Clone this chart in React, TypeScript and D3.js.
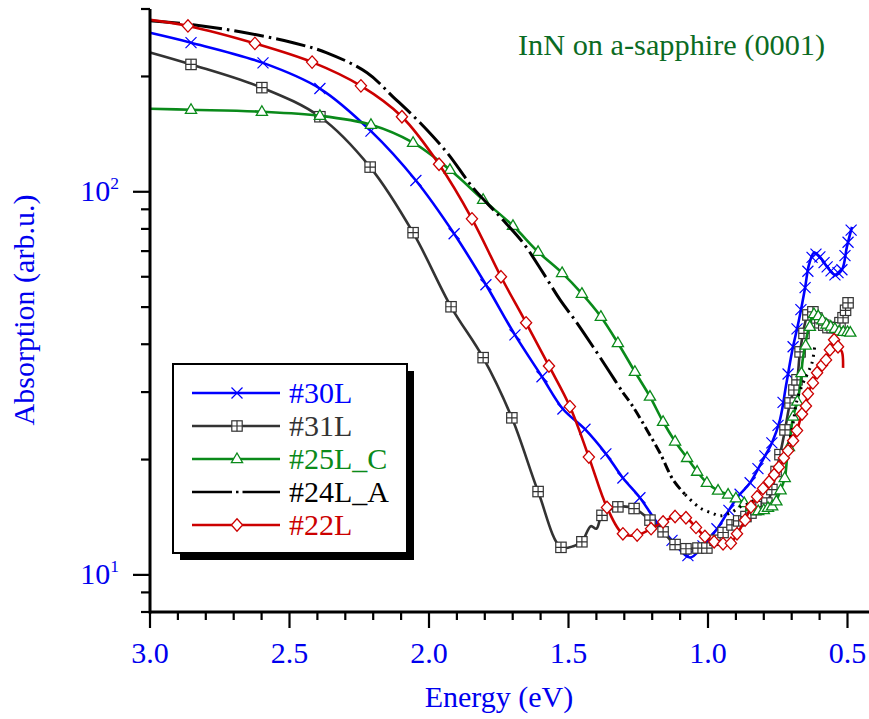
import React from "react";
import * as d3 from "d3";

const W = 869;
const H = 719;

// ---------- data ----------
const xMajorTicks = [3.0, 2.5, 2.0, 1.5, 1.0, 0.5];
const xTickLabels = ["3.0", "2.5", "2.0", "1.5", "1.0", "0.5"];
const xMinorTicks = [2.9, 2.8, 2.7, 2.6, 2.4, 2.3, 2.2, 2.1, 1.9, 1.8, 1.7, 1.6, 1.4, 1.3, 1.2, 1.1, 0.9, 0.8, 0.7, 0.6];
const yMajorTicks = [10, 100];
const yMajorExp = ["1", "2"];
const yMinorTicks = [8, 9, 20, 30, 40, 50, 60, 70, 80, 90, 200, 300];

type P = [number, number];

const s30L: P[] = [
  [3.0, 260], [2.853, 245], [2.595, 217], [2.391, 186], [2.208, 144], [2.047, 107], [1.91, 77.7],
  [1.796, 57.2], [1.692, 42.3], [1.595, 32.9], [1.52, 27.1], [1.441, 24.0], [1.366, 20.7], [1.305, 17.9],
  [1.244, 15.9], [1.183, 13.7], [1.129, 12.3], [1.065, 11.1], [1.018, 11.9], [0.964, 13.3], [0.896, 15.9],
  [0.849, 17.4], [0.803, 20.0], [0.771, 22.1], [0.742, 25.4], [0.72, 31.3], [0.699, 38.2], [0.674, 46.3],
  [0.652, 56.2], [0.638, 64.5], [0.62, 69.3], [0.599, 67.6], [0.573, 63.7], [0.545, 60.7], [0.52, 62.6],
  [0.502, 71.9], [0.484, 81.0],
];
const m30L = [
  2.853, 2.595, 2.391, 2.208, 2.047, 1.91, 1.796, 1.692, 1.595, 1.52, 1.441, 1.366, 1.305, 1.244, 1.183,
  1.129, 1.072, 1.018, 0.968, 0.925, 0.885, 0.849, 0.821, 0.796, 0.771, 0.749, 0.731, 0.713, 0.695, 0.681,
  0.667, 0.652, 0.642, 0.627, 0.613, 0.599, 0.584, 0.573, 0.559, 0.545, 0.534, 0.52, 0.509, 0.498, 0.487,
];

const s31L: P[] = [
  [3.0, 231], [2.853, 215], [2.599, 187], [2.391, 157], [2.211, 116], [2.057, 78.2], [1.921, 50.1],
  [1.806, 36.9], [1.703, 25.7], [1.609, 16.5], [1.527, 11.8], [1.48, 11.9], [1.452, 12.2], [1.42, 13.4],
  [1.4, 13.2], [1.38, 14.3], [1.323, 15.05], [1.265, 14.9], [1.208, 13.9], [1.161, 12.95], [1.118, 12.0],
  [1.079, 11.7], [1.036, 11.75], [1.004, 11.75], [0.946, 12.9], [0.914, 13.5], [0.864, 14.2], [0.828, 14.8],
  [0.789, 15.4], [0.771, 16.7], [0.742, 20.6], [0.724, 23.9], [0.706, 28.1], [0.681, 32.3], [0.67, 38.2],
  [0.642, 47.7], [0.624, 48.6], [0.599, 45.5], [0.57, 44.2], [0.538, 44.2], [0.516, 46.9], [0.498, 51.3],
];
const m31L = [
  2.853, 2.599, 2.391, 2.211, 2.057, 1.921, 1.806, 1.703, 1.609, 1.527, 1.452, 1.38, 1.323, 1.265, 1.208,
  1.161, 1.118, 1.079, 1.036, 1.004, 0.975, 0.946, 0.914, 0.89, 0.864, 0.846, 0.828, 0.81, 0.789, 0.771,
  0.756, 0.742, 0.724, 0.706, 0.692, 0.681, 0.67, 0.656, 0.642, 0.624, 0.61, 0.599, 0.585, 0.57, 0.555,
  0.538, 0.527, 0.516, 0.507, 0.498,
];

const s25LC: P[] = [
  [3.0, 164.7], [2.853, 163.7], [2.599, 161.8], [2.391, 157.9], [2.208, 149.6], [2.057, 134.3], [1.925, 114.1],
  [1.806, 95.3], [1.699, 81.5], [1.609, 69.7], [1.523, 61.4], [1.452, 54.2], [1.384, 47.2], [1.323, 40.3],
  [1.262, 33.9], [1.208, 29.2], [1.161, 25.1], [1.118, 22.3], [1.075, 20.2], [1.039, 18.6], [1.004, 17.4],
  [0.964, 16.6], [0.928, 16.2], [0.903, 15.9], [0.857, 15.2], [0.814, 14.6], [0.785, 14.96], [0.76, 15.2],
  [0.749, 16.0], [0.735, 17.0], [0.724, 18.0], [0.717, 20.0], [0.706, 22.5], [0.695, 25.9], [0.681, 28.1],
  [0.67, 31.0], [0.659, 37.1], [0.627, 47.2], [0.617, 48.3], [0.599, 46.9], [0.573, 44.9], [0.552, 44.2],
  [0.527, 43.1], [0.502, 43.1], [0.484, 42.8],
];
const m25LC = [
  2.853, 2.599, 2.391, 2.208, 2.057, 1.925, 1.806, 1.699, 1.609, 1.523, 1.452, 1.384, 1.323, 1.262, 1.208,
  1.161, 1.118, 1.075, 1.039, 1.004, 0.964, 0.928, 0.9, 0.87, 0.845, 0.82, 0.8, 0.785, 0.77, 0.755, 0.74,
  0.725, 0.71, 0.695, 0.68, 0.665, 0.65, 0.635, 0.62, 0.605, 0.59, 0.575, 0.56, 0.545, 0.53, 0.515, 0.5, 0.49,
];

const s24LA: P[] = [
  [3.0, 279.6], [2.846, 272.9], [2.677, 261.6], [2.487, 244.9], [2.366, 230.6], [2.222, 204.5], [2.129, 177.0],
  [2.032, 151.4], [1.935, 126.4], [1.842, 102.4], [1.746, 86.1], [1.663, 73.6], [1.591, 61.4], [1.53, 52.2],
  [1.47, 45.5], [1.412, 39.4], [1.351, 33.7], [1.305, 29.9], [1.269, 27.5], [1.219, 23.9], [1.172, 20.8],
  [1.125, 17.7], [1.082, 16.2], [1.029, 14.96], [0.986, 14.5], [0.957, 14.26], [0.921, 14.5], [0.885, 15.05],
  [0.849, 15.42], [0.796, 16.67], [0.742, 18.8], [0.713, 21.6], [0.695, 24.9], [0.681, 28.6], [0.659, 31.7],
  [0.642, 33.7], [0.627, 35.8], [0.616, 40.3],
];

const s22L: P[] = [
  [3.0, 281], [2.864, 271], [2.624, 244], [2.419, 218], [2.244, 189], [2.097, 157], [1.964, 118], [1.846, 85],
  [1.742, 60], [1.652, 45.5], [1.57, 35.1], [1.495, 27.5], [1.427, 20.3], [1.362, 15.0], [1.305, 12.8],
  [1.254, 12.7], [1.204, 13.2], [1.161, 13.75], [1.118, 14.2], [1.079, 14.1], [1.043, 13.3], [1.011, 12.6],
  [0.978, 12.2], [0.946, 12.05], [0.918, 12.1], [0.896, 12.8], [0.867, 13.9], [0.846, 15.05], [0.824, 16.0],
  [0.803, 16.8], [0.781, 17.5], [0.763, 18.25], [0.746, 19.1], [0.728, 20.2], [0.713, 21.1], [0.695, 22.4],
  [0.681, 23.8], [0.663, 26.3], [0.649, 27.6], [0.642, 29.7], [0.624, 31.7], [0.609, 33.7], [0.591, 35.3],
  [0.577, 36.4], [0.563, 38.7], [0.548, 41.1], [0.534, 39.4], [0.52, 38.2], [0.516, 34.7],
];
const m22L = [
  2.864, 2.624, 2.419, 2.244, 2.097, 1.964, 1.846, 1.742, 1.652, 1.57, 1.495, 1.427, 1.362, 1.305, 1.254,
  1.204, 1.161, 1.118, 1.079, 1.043, 1.011, 0.978, 0.946, 0.918, 0.896, 0.867, 0.846, 0.824, 0.803, 0.781,
  0.763, 0.746, 0.728, 0.713, 0.695, 0.681, 0.663, 0.649, 0.642, 0.624, 0.609, 0.591, 0.577, 0.563, 0.548, 0.534,
];

const seriesNames = ["#30L", "#31L", "#25L_C", "#24L_A", "#22L"];
const seriesColors = ["#0000ff", "#333333", "#0a8a1a", "#000000", "#cc0000"];
const legendTextColors = ["#0000ff", "#333333", "#0a8a1a", "#000000", "#cc0000"];
const seriesMarkers = ["x", "sq", "tri", "none", "dia"];

// ---------- layout ----------
const FONT = "Liberation Serif";
const BLUE = "#0000ee";
const FS = 30;
const textStyle = { fontFamily: FONT } as React.CSSProperties;

const x = d3.scaleLinear().domain([3.0, 0.42]).range([150, 150 + 2.58 * 279]);
const y = d3.scaleLog().domain([8, 300]).range([612, 9]);

function logInterp(line: P[], e: number): number {
  for (let i = 0; i < line.length - 1; i++) {
    const [e0, v0] = line[i];
    const [e1, v1] = line[i + 1];
    if ((e <= e0 && e >= e1) || (e >= e0 && e <= e1)) {
      const t = e1 === e0 ? 0 : (e - e0) / (e1 - e0);
      return Math.pow(10, Math.log10(v0) + t * (Math.log10(v1) - Math.log10(v0)));
    }
  }
  return line[line.length - 1][1];
}

const lineGen = d3
  .line<P>()
  .x((d) => x(d[0]))
  .y((d) => y(d[1]))
  .curve(d3.curveCatmullRom.alpha(0.5));

function Marker({ kind, cx, cy, color }: { kind: string; cx: number; cy: number; color: string }) {
  if (kind === "x") {
    const r = 5.5;
    return (
      <path
        d={`M${cx - r},${cy - r}L${cx + r},${cy + r}M${cx - r},${cy + r}L${cx + r},${cy - r}`}
        stroke={color}
        strokeWidth={1.2}
        fill="none"
      />
    );
  }
  if (kind === "sq") {
    const r = 5.2;
    return (
      <g>
        <rect x={cx - r} y={cy - r} width={2 * r} height={2 * r} fill="#fff" stroke={color} strokeWidth={1.2} />
        <path d={`M${cx - r},${cy}L${cx + r},${cy}M${cx},${cy - r}L${cx},${cy + r}`} stroke={color} strokeWidth={1.2} />
      </g>
    );
  }
  if (kind === "tri") {
    return (
      <path
        d={`M${cx},${cy - 6}L${cx + 5.6},${cy + 3.6}L${cx - 5.6},${cy + 3.6}Z`}
        fill="#fff"
        stroke={color}
        strokeWidth={1.3}
      />
    );
  }
  if (kind === "dia") {
    return (
      <path
        d={`M${cx},${cy - 6.2}L${cx + 5.6},${cy}L${cx},${cy + 6.2}L${cx - 5.6},${cy}Z`}
        fill="#fff"
        stroke={color}
        strokeWidth={1.3}
      />
    );
  }
  return null;
}

function Series({ line, marks, color, kind }: { line: P[]; marks: number[]; color: string; kind: string }) {
  return (
    <g>
      <path d={lineGen(line) || ""} fill="none" stroke={color} strokeWidth={2.6} strokeLinejoin="round" />
      {marks.map((e, i) => (
        <Marker key={i} kind={kind} cx={x(e)} cy={y(logInterp(line, e))} color={color} />
      ))}
    </g>
  );
}

// black dash-dot line; pattern gets denser where original data was noisy
const blackSegments: { from: number; to: number; dash: string }[] = [
  { from: 3.01, to: 1.3, dash: "30 5 2.5 5" },
  { from: 1.306, to: 1.08, dash: "10 4 2.5 4" },
  { from: 1.083, to: 0.6, dash: "2 5" },
];

export default function App() {
  const allSeries = [
    { line: s30L, marks: m30L },
    { line: s31L, marks: m31L },
    { line: s25LC, marks: m25LC },
    { line: s24LA, marks: [] as number[] },
    { line: s22L, marks: m22L },
  ];
  const legendY0 = 393;
  const legendDy = 33;

  return (
    <svg width={W} height={H} style={{ position: "absolute", left: 0, top: 0 }}>
      <rect x={0} y={0} width={W} height={H} fill="#fff" />

      {/* series */}
      {allSeries.map((s, i) =>
        i === 3 ? (
          <g key={i}>
            {blackSegments.map((seg, j) => {
              const pts = s.line.filter((d) => d[0] <= seg.from && d[0] >= seg.to);
              return (
                <path
                  key={j}
                  d={lineGen(pts) || ""}
                  fill="none"
                  stroke="#000"
                  strokeWidth={3}
                  strokeDasharray={seg.dash}
                />
              );
            })}
          </g>
        ) : (
          <Series key={i} line={s.line} marks={s.marks} color={seriesColors[i]} kind={seriesMarkers[i]} />
        )
      )}

      {/* axes */}
      <line x1={x(3.0)} x2={W} y1={y(8)} y2={y(8)} stroke="#000" strokeWidth={3} />
      <line x1={x(3.0)} x2={x(3.0)} y1={y(8) + 1.5} y2={y(300)} stroke="#000" strokeWidth={3} />
      {xMajorTicks.map((t, i) => (
        <g key={"xm" + i}>
          <line x1={x(t)} x2={x(t)} y1={y(8)} y2={y(8) + 16} stroke="#000" strokeWidth={2.2} />
          <text x={x(t)} y={663} textAnchor="middle" fontSize={FS} fill={BLUE} style={textStyle}>
            {xTickLabels[i]}
          </text>
        </g>
      ))}
      {xMinorTicks.map((t, i) => (
        <line key={"xn" + i} x1={x(t)} x2={x(t)} y1={y(8)} y2={y(8) + 8} stroke="#000" strokeWidth={2.2} />
      ))}
      {yMajorTicks.map((t, i) => (
        <g key={"ym" + i}>
          <line x1={x(3.0) - 17} x2={x(3.0)} y1={y(t)} y2={y(t)} stroke="#000" strokeWidth={2.2} />
          <text x={119} y={y(t) + 9} textAnchor="end" fontSize={FS} fill={BLUE} style={textStyle}>
            <tspan>10</tspan>
            <tspan dy={-12} fontSize={17.5}>
              {yMajorExp[i]}
            </tspan>
          </text>
        </g>
      ))}
      {yMinorTicks.map((t, i) => (
        <line key={"yn" + i} x1={x(3.0) - 9} x2={x(3.0)} y1={y(t)} y2={y(t)} stroke="#000" strokeWidth={2.2} />
      ))}

      {/* axis titles */}
      <text x={499} y={707} textAnchor="middle" fontSize={FS} fill={BLUE} style={textStyle}>
        Energy (eV)
      </text>
      <text
        transform={`translate(34,310) rotate(-90)`}
        textAnchor="middle"
        fontSize={FS}
        fill={BLUE}
        style={textStyle}
      >
        Absorption (arb.u.)
      </text>

      {/* annotation */}
      <text x={518} y={55} fontSize={30.3} fill="#0b6b23" style={textStyle}>
        InN on a-sapphire (0001)
      </text>

      {/* legend */}
      <rect x={180} y={371} width={234} height={189} fill="#000" />
      <rect x={173} y={364} width={234} height={189} fill="#fff" stroke="#000" strokeWidth={2} />
      {seriesNames.map((n, i) => {
        const ly = legendY0 + i * legendDy;
        return (
          <g key={"lg" + i}>
            <line
              x1={192}
              x2={280}
              y1={ly}
              y2={ly}
              stroke={seriesColors[i]}
              strokeWidth={2.6}
              strokeDasharray={i === 3 ? "40 4 2.5 4" : undefined}
            />
            <Marker kind={seriesMarkers[i]} cx={237} cy={ly} color={seriesColors[i]} />
            <text x={289} y={ly + 10} fontSize={FS} fill={legendTextColors[i]} style={textStyle}>
              {n}
            </text>
          </g>
        );
      })}
    </svg>
  );
}
